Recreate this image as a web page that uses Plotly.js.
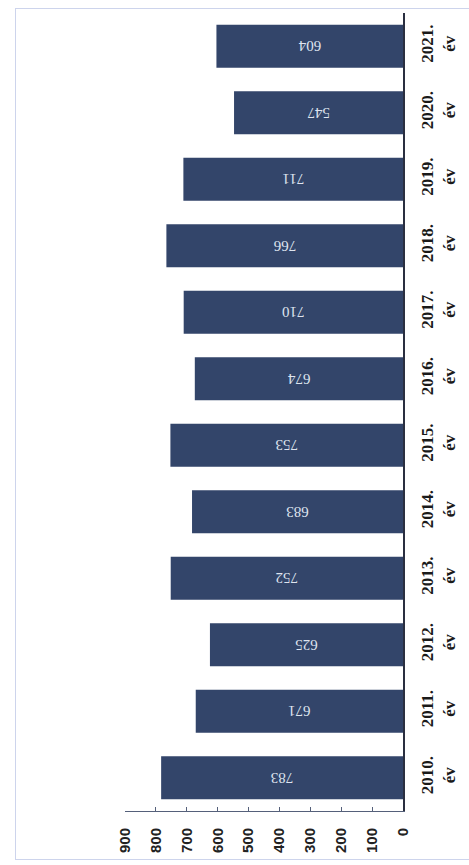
<!DOCTYPE html>
<html>
<head>
<meta charset="utf-8">
<script src="https://cdn.plot.ly/plotly-3.0.1.min.js"></script>
<style>
html,body{margin:0;padding:0;background:#fff;}
#chart{width:469px;height:865px;position:relative;}
#frame{position:absolute;left:15px;top:8px;width:470px;height:850px;border:1px solid #cdd4ec;pointer-events:none;}
</style>
</head>
<body>
<div id="chart"></div>
<div id="frame"></div>
<script>
const years = ["2010.", "2011.", "2012.", "2013.", "2014.", "2015.", "2016.", "2017.", "2018.", "2019.", "2020.", "2021."];
const suffix = "év";
const values = [783, 671, 625, 752, 683, 753, 674, 710, 766, 711, 547, 604];
const valueTicks = [0, 100, 200, 300, 400, 500, 600, 700, 800, 900];

const cats = years.map(y => y + "<br>" + suffix);

const trace = {
  type: "bar",
  orientation: "h",
  y: cats,
  x: values,
  marker: {color: "#33456a"},
  text: values.map(String),
  textposition: "inside",
  insidetextanchor: "middle",
  textangle: 180,
  textfont: {family: "Liberation Serif", size: 15, color: "#dfe4ef"},
  hoverinfo: "none"
};

const layout = {
  width: 469, height: 865,
  margin: {l: 125, r: 66, t: 13, b: 54},
  paper_bgcolor: "#ffffff",
  plot_bgcolor: "#ffffff",
  showlegend: false,
  bargap: 0.35,
  xaxis: {
    range: [900, 0],
    tickvals: valueTicks,
    ticktext: valueTicks.map(String),
    tickangle: -90,
    tickfont: {family: "Liberation Sans", size: 15, color: "#222", weight: "bold"},
    showgrid: false,
    zeroline: false,
    showline: true,
    linecolor: "#55607a",
    linewidth: 1,
    ticks: "inside",
    ticklen: 4,
    tickcolor: "#55607a",
    ticklabelstandoff: 10
  },
  yaxis: {
    type: "category",
    categoryorder: "array",
    categoryarray: cats,
    side: "right",
    tickangle: -90,
    tickfont: {family: "Liberation Serif", size: 17, color: "#1a1a1a", weight: "bold"},
    showgrid: false,
    zeroline: false,
    showline: true,
    linecolor: "#2a2f40",
    linewidth: 1.5,
    ticks: "",
    ticklabelstandoff: 8
  }
};

Plotly.newPlot("chart", [trace], layout, {displayModeBar: false, staticPlot: true});
</script>
</body>
</html>
